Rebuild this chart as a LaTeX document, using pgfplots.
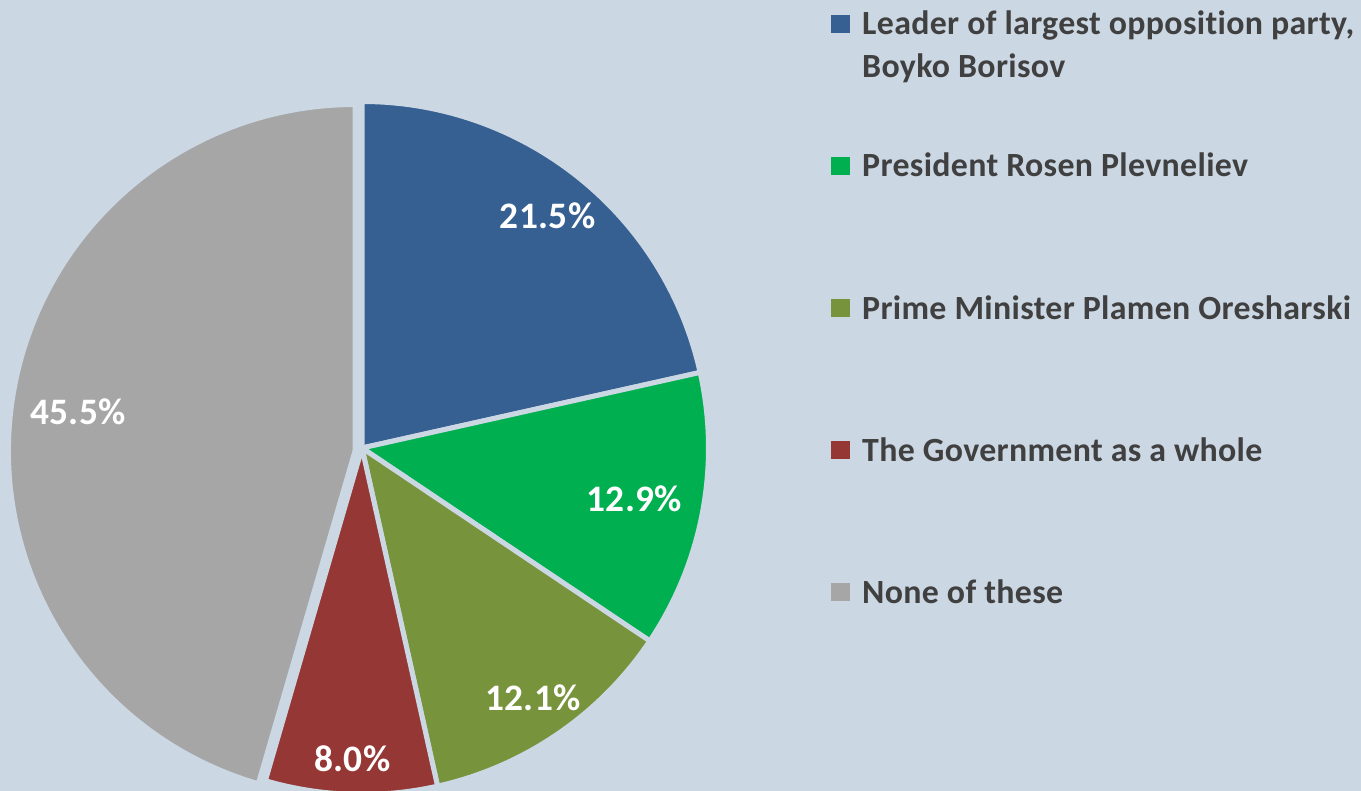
\documentclass[border=0pt]{standalone}
\usepackage{pgfplots}
\pgfplotsset{compat=1.18}
\usepackage{fontspec}
\setmainfont{Carlito}[Ligatures={NoCommon}]

\definecolor{bg}{HTML}{CBD7E3}
\definecolor{cBlue}{HTML}{366092}
\definecolor{cGreen}{HTML}{00B050}
\definecolor{cOlive}{HTML}{77933C}
\definecolor{cRed}{HTML}{953735}
\definecolor{cGray}{HTML}{A6A6A6}
\definecolor{txt}{HTML}{404040}

\begin{document}
\begin{tikzpicture}
\useasboundingbox (0,0) rectangle (1361bp,791bp);
\clip (0,0) rectangle (1361bp,791bp);
\fill[bg] (0,0) rectangle (1361bp,791bp);
\begin{axis}[
  at={(0,0)}, anchor=south west,
  scale only axis,
  width=1361bp, height=791bp,
  xmin=0, xmax=1361, ymin=0, ymax=791,
  y dir=reverse,
  hide axis, clip=false,
]
% share (%) / colour / explode dx,dy (px) / label radius (px)
\pgfplotsextra{
  \gdef\angA{90}
  \foreach \v/\c/\dx/\dy/\lr in {
      21.5/cBlue/0/0/297,
      12.9/cGreen/0/0/277,
      12.1/cOlive/0/0/303,
      8.0/cRed/0/0/311,
      45.5/cGray/-7/-3/280}{
    \pgfmathsetmacro\angB{\angA-3.6*\v}
    \pgfmathsetmacro\mid{(\angA+\angB)/2}
    \begin{scope}[shift={(axis cs:362,448)}, shift={(\dx bp,\dy bp)}]
      \fill[\c, draw=bg, line width=5bp, line join=round]
        (0,0) -- (\angA:346.5bp) arc[start angle=\angA, end angle=\angB, radius=346.5bp] -- cycle;
      \node[white, font=\bfseries\fontsize{37.5}{44}\selectfont\addfontfeatures{LetterSpace=1}]
        at (\mid:\lr bp) {\v\%};
    \end{scope}
    \xdef\angA{\angB}
  }
}
% legend
\pgfplotsextra{
  \foreach \y/\c/\t in {
      24/cBlue/{Leader of largest opposition party,},
      166/cGreen/{President Rosen Plevneliev},
      308/cOlive/{Prime Minister Plamen Oresharski},
      450/cRed/{The Government as a whole},
      592/cGray/{None of these}}{
    \fill[\c] (axis cs:831,\y) ++(0,-9bp) rectangle ++(19bp,18bp);
    \node[txt, anchor=base west, inner sep=0pt, font=\bfseries\fontsize{34}{40}\selectfont\addfontfeatures{LetterSpace=1}]
      at (axis cs:862,\y) [yshift=-11bp] {\t};
  }
  \node[txt, anchor=base west, inner sep=0pt, font=\bfseries\fontsize{34}{40}\selectfont\addfontfeatures{LetterSpace=1}]
    at (axis cs:862,67) [yshift=-11bp] {Boyko Borisov};
}
\end{axis}
\end{tikzpicture}
\end{document}
